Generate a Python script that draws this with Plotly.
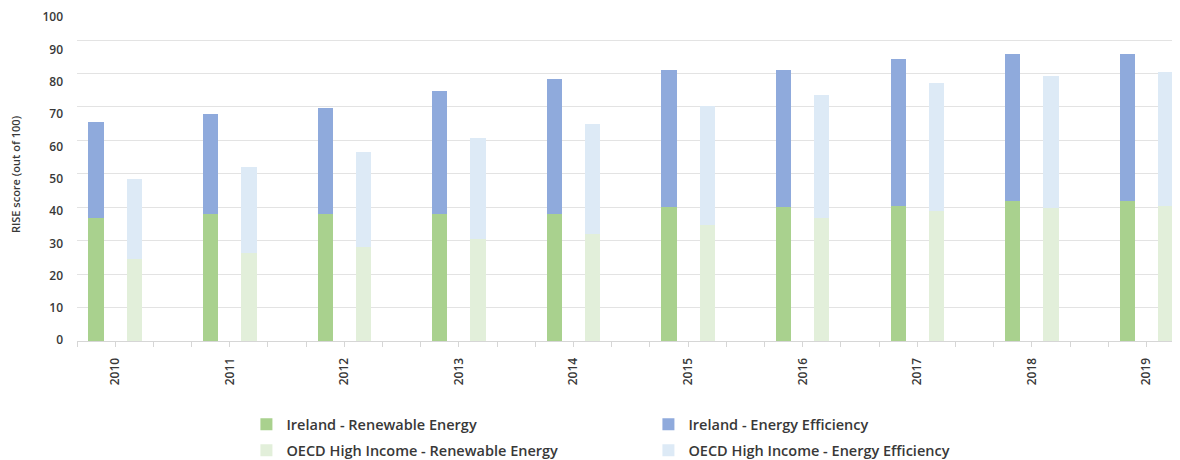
import plotly.graph_objects as go

years = ["2010", "2011", "2012", "2013", "2014", "2015", "2016", "2017", "2018", "2019"]
ireland_re = [36.9, 38.0, 37.9, 37.9, 38.0, 40.0, 40.0, 40.4, 41.8, 41.8]
ireland_ee = [28.5, 29.8, 31.8, 36.8, 40.4, 41.1, 41.1, 43.8, 44.1, 44.1]
oecd_re = [24.4, 26.2, 28.1, 30.4, 32.1, 34.6, 36.8, 38.8, 39.8, 40.5]
oecd_ee = [24.0, 25.8, 28.4, 30.3, 32.8, 35.7, 36.8, 38.4, 39.5, 40.0]
y_ticks = [0, 10, 20, 30, 40, 50, 60, 70, 80, 90, 100]

# each year occupies three slots: Ireland, OECD, gap
ireland_x = [3 * i + 0.5 for i in range(len(years))]
oecd_x = [3 * i + 1.5 for i in range(len(years))]
label_x = [3 * i + 1 for i in range(len(years))]

FONT = "Open Sans, Lato, sans-serif"
TXT = "#383838"
BW = 0.4

fig = go.Figure()
fig.add_trace(go.Bar(x=ireland_x, y=ireland_re, width=BW, name="Ireland - Renewable Energy",
                     marker=dict(color="#a9d18e", line=dict(width=0)), legend="legend"))
fig.add_trace(go.Bar(x=ireland_x, y=ireland_ee, width=BW, name="Ireland - Energy Efficiency",
                     marker=dict(color="#8faadc", line=dict(width=0)), legend="legend"))
fig.add_trace(go.Bar(x=oecd_x, y=oecd_re, width=BW, name="OECD High Income - Renewable Energy",
                     marker=dict(color="#e2efda", line=dict(width=0)), legend="legend2"))
fig.add_trace(go.Bar(x=oecd_x, y=oecd_ee, width=BW, name="OECD High Income - Energy Efficiency",
                     marker=dict(color="#ddeaf6", line=dict(width=0)), legend="legend2"))
# empty trace so the label axis is drawn
fig.add_trace(go.Scatter(x=[], y=[], yaxis="y2", showlegend=False, hoverinfo="skip"))

legend_common = dict(orientation="h", xanchor="left", yanchor="middle",
                     font=dict(family=FONT, size=14.5, color=TXT, weight=600),
                     entrywidth=357, entrywidthmode="pixels", bgcolor="rgba(0,0,0,0)",
                     traceorder="normal")

# page body has an 8px margin, so the figure is 8px smaller each way
fig.update_layout(
    width=1172, height=452,
    margin=dict(l=69, r=0, t=0, b=119.3, autoexpand=False),
    barmode="stack",
    plot_bgcolor="white", paper_bgcolor="white",
    font=dict(family=FONT, color=TXT),
    legend=dict(x=0.1536, y=-0.2504, **legend_common),
    legend2=dict(x=0.1536, y=-0.3285, **legend_common),
    xaxis=dict(
        range=[0, 28.88],
        tickvals=label_x, ticktext=years,
        tickangle=-90,
        ticks="outside", ticklen=5, tickcolor="#d6d6d6",
        minor=dict(dtick=1, tick0=0, ticks="outside", ticklen=5, tickcolor="#d6d6d6", showgrid=False),
        showline=True, linecolor="#d6d6d6", linewidth=1,
        showgrid=False, zeroline=False, automargin=False,
        tickfont=dict(family=FONT, size=12, color=TXT, weight=600),
        ticklabelstandoff=6,
    ),
    yaxis=dict(
        range=[0, 99.6],
        tickvals=y_ticks, showticklabels=False,
        showgrid=True, gridcolor="#e3e3e3", gridwidth=1,
        zeroline=False, showline=False, ticks="", automargin=False,
    ),
    # label axis placed as in the reference (labels spaced slightly wider than gridlines)
    yaxis2=dict(
        overlaying="y", side="left",
        range=[-0.22, 102.78],
        tickvals=y_ticks,
        showgrid=False, zeroline=False, showline=False, ticks="", automargin=False,
        tickfont=dict(family=FONT, size=12, color=TXT, weight=600),
        ticklabelstandoff=13,
        title=dict(text="RISE score (out of 100)", standoff=20,
                   font=dict(family=FONT, size=11, color=TXT, weight=600)),
    ),
)

fig.write_html("out.html")
